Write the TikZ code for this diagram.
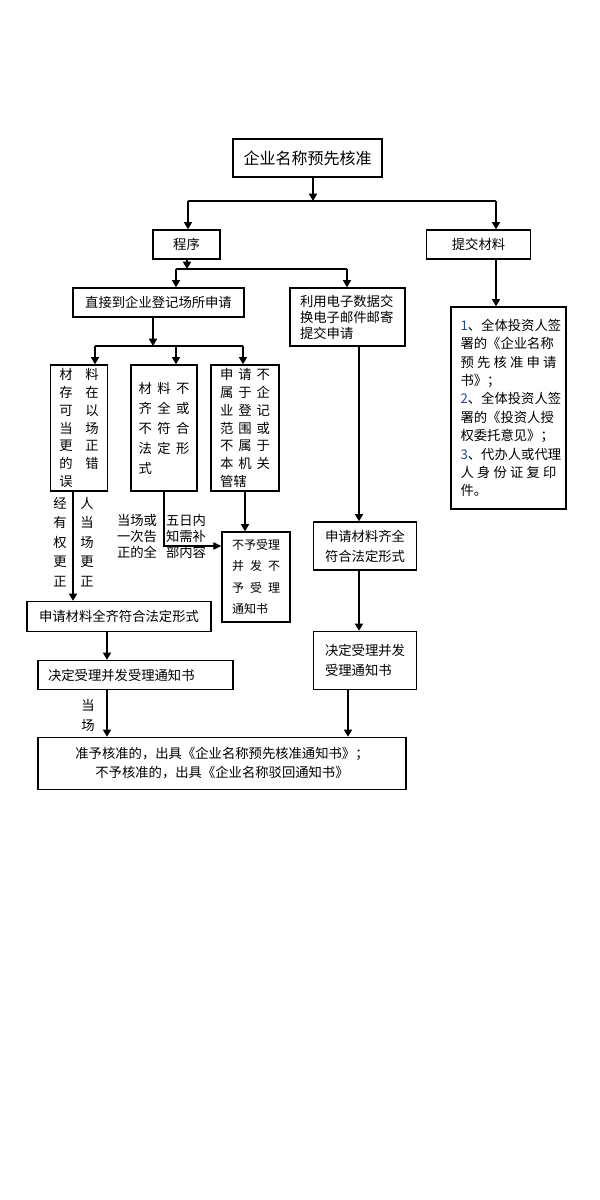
\documentclass[tikz,border=0pt]{standalone}
\usepackage{fontspec}
\setmainfont{Noto Sans CJK SC}
\usetikzlibrary{arrows.meta}
\definecolor{numblue}{RGB}{36,72,160}

\tikzset{
    box/.style={draw, line width=1pt, inner sep=0pt, font=\fontsize{10}{14}\selectfont},
    sz/.style 2 args={minimum width=#1*0.75pt, minimum height=#2*0.75pt},
    arr/.style={line width=2pt, -{Triangle[length=5.5pt,width=6pt]}},
    tarr/.style={line width=0.8pt, -{Triangle[length=6pt,width=5.5pt]}},
    bar/.style={line width=1pt},
    lab/.style={inner sep=0pt, align=center, font=\fontsize{10}{14.6}\selectfont}
}

\begin{document}
\begin{tikzpicture}[x=0.75pt,y=-0.75pt]
        \useasboundingbox (0,0) rectangle (600,1200);

        \node[box, sz={149}{38}, font=\fontsize{12}{14}\selectfont] (qymc) at (307.5,158) {企业名称预先核准};
        \node[box, sz={67}{29}] (chengxu) at (186.5,244.5) {程序};
        \node[box, sz={104}{29}] (tijiao) at (478.5,244.5) {提交材料};
        \node[box, sz={171}{29}] (zhijie) at (158.5,302.5) {直接到企业登记场所申请};
        \node[box, sz={115}{58}, text width=71.25pt, align=left, font=\fontsize{10}{12}\selectfont] (liyong) at (347.5,317) {利用电子数据交\\换电子邮件邮寄\\提交申请};

        \node[box, sz={57}{126}, text width=29.6pt, align=left, font=\fontsize{10}{13.35}\selectfont] (clA) at (79,428)
            {材\hfill 料\\存\hfill 在\\可\hfill 以\\当\hfill 场\\更\hfill 正\\的\hfill 错\\误};
        \node[box, sz={66}{126}, text width=38.25pt, align=left, font=\fontsize{10}{15}\selectfont] (clB) at (164,428)
            {材\hfill 料\hfill 不\\齐\hfill 全\hfill 或\\不\hfill 符\hfill 合\\法\hfill 定\hfill 形\\式};
        \node[box, sz={68}{126}, text width=37.5pt, align=left, font=\fontsize{10}{13.35}\selectfont] (clC) at (245,428)
            {申\hfill 请\hfill 不\\属\hfill 于\hfill 企\\业\hfill 登\hfill 记\\范\hfill 围\hfill 或\\不\hfill 属\hfill 于\\本\hfill 机\hfill 关\\管辖};
        \node[box, sz={68}{90}, text width=36pt, align=left, font=\fontsize{9}{16}\selectfont] (buyu) at (256,577)
            {不予受理\\并\hfill 发\hfill 不\\予\hfill 受\hfill 理\\通知书};

        \node[box, sz={184}{30}] (qiquanL) at (119,616.5) {申请材料全齐符合法定形式};
        \node[box, sz={195}{29}, text width=131.25pt, align=left] (juedingL) at (135.5,675) {决定受理并发受理通知书};
        \node[box, sz={368}{52}, align=center, font=\fontsize{10}{14.3}\selectfont] (zhunyu) at (222,763.5)
            {准予核准的，出具《企业名称预先核准通知书》；\\不予核准的，出具《企业名称驳回通知书》};

        \node[box, sz={103}{48}, text width=60pt, align=left, font=\fontsize{10}{15}\selectfont] (qiquanR) at (365,546) {申请材料齐全\\符合法定形式};
        \node[box, sz={103}{58}, text width=60pt, align=left, font=\fontsize{10}{14.5}\selectfont] (juedingR) at (365,660.5) {决定受理并发\\受理通知书};

        \node[box, sz={115}{202}, text width=72pt, align=left, font=\fontsize{10}{13.8}\selectfont] (cailiao) at (508.5,408)
            {{\color{numblue}1}、全体投资人签\\署的《企业名称\\预\hfill 先\hfill 核\hfill 准\hfill 申\hfill 请\\书》；\\
             {\color{numblue}2}、全体投资人签\\署的《投资人授\\权委托意见》；\\
             {\color{numblue}3}、代办人或代理\\人\hfill 身\hfill 份\hfill 证\hfill 复\hfill 印\\件。};

        \node[lab] (labJ) at (60,542) {经\\有\\权\\更\\正};
        \node[lab] (labR) at (87,542) {人\\当\\场\\更\\正};
        \node[lab, font=\fontsize{10}{12}\selectfont] (labG) at (137,536) {当场或\\一次告\\正的全};
        \node[lab, font=\fontsize{10}{12}\selectfont] (labW) at (186,536) {五日内\\知需补\\部内容};
        \node[lab, font=\fontsize{10}{15}\selectfont] (labD) at (88,715) {当\\场};

        % branching bars
        \coordinate (t1) at (313,201);
        \coordinate (t1l) at (188,201);
        \coordinate (t1r) at (496,201);
        \coordinate (t2) at (187,269);
        \coordinate (t2l) at (176,269);
        \coordinate (t2r) at (347,269);
        \coordinate (t3) at (153,346);
        \coordinate (t3a) at (95,346);
        \coordinate (t3b) at (176,346);
        \coordinate (t3c) at (243,346);

        \draw[arr] (qymc.south -| t1) -- (t1);
        \draw[bar] (t1l) -- (t1r);
        \draw[arr] (t1l) -- (chengxu.north -| t1l);
        \draw[arr] (t1r) -- (tijiao.north -| t1r);
        \draw[arr] (tijiao.south -| t1r) -- (cailiao.north -| t1r);

        \draw[arr] (chengxu.south -| t2) -- (t2);
        \draw[bar] (t2l) -- (t2r);
        \draw[arr] (t2l) -- (zhijie.north -| t2l);
        \draw[arr] (t2r) -- (liyong.north -| t2r);

        \draw[arr] (zhijie.south -| t3) -- (t3);
        \draw[bar] (t3a) -- (t3c);
        \foreach \c/\n in {t3a/clA, t3b/clB, t3c/clC} {
            \draw[arr] (\c) -- (\n.north -| \c);
        }

        % left column
        \coordinate (ka) at (73,500);
        \coordinate (kb) at (164,546);
        \coordinate (kl) at (107,700);
        \draw[arr] (clA.south -| ka) -- (qiquanL.north -| ka);
        \draw[tarr] (clB.south) -- (kb) -- (buyu.west |- kb);
        \draw[arr] (clC.south) -- (buyu.north -| clC.south);
        \draw[arr] (qiquanL.south -| kl) -- (juedingL.north -| kl);
        \draw[arr] (juedingL.south -| kl) -- (zhunyu.north -| kl);

        % right column
        \coordinate (kr) at (359,500);
        \coordinate (kz) at (348,700);
        \draw[arr] (liyong.south -| kr) -- (qiquanR.north -| kr);
        \draw[arr] (qiquanR.south -| kr) -- (juedingR.north -| kr);
        \draw[arr] (juedingR.south -| kz) -- (zhunyu.north -| kz);
    \end{tikzpicture}
\end{document}
